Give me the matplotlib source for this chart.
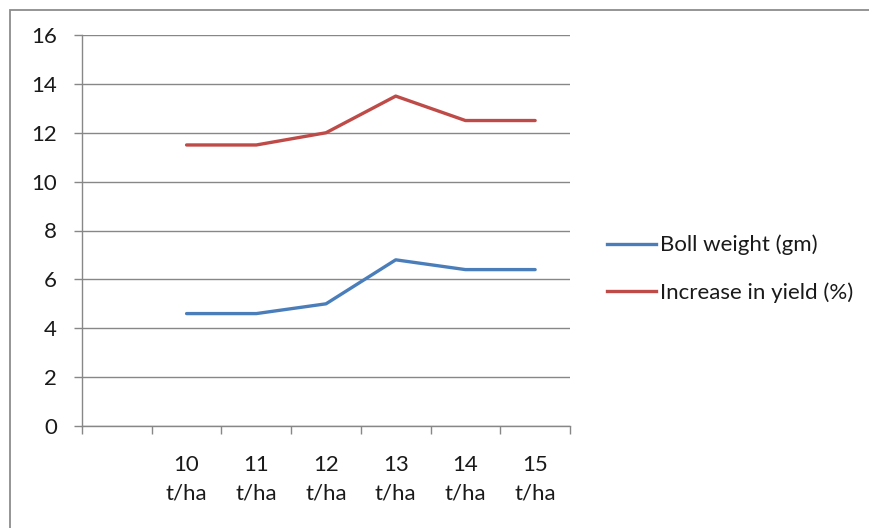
import matplotlib.pyplot as plt
from matplotlib.lines import Line2D
from matplotlib.patches import Rectangle

plt.rcParams['font.family'] = ['Lato', 'DejaVu Sans']

# Categories: the first slot is an empty category, as in the source sheet
categories = ['', '10\nt/ha', '11\nt/ha', '12\nt/ha', '13\nt/ha', '14\nt/ha', '15\nt/ha']
boll_weight = [None, 4.6, 4.6, 5.0, 6.8, 6.4, 6.4]
yield_increase = [None, 11.5, 11.5, 12.0, 13.5, 12.5, 12.5]
y_ticks = [0, 2, 4, 6, 8, 10, 12, 14, 16]

BLUE = '#4A7EBB'
RED = '#BE4B48'
GRID = '#878787'
TEXT = '#1a1a1a'
FS = 16

W, H = 869, 528
fig = plt.figure(figsize=(W / 100, H / 100), dpi=100)
fig.patch.set_facecolor('white')

# outer chart frame (left and top edges visible, the rest runs off the image)
fig.add_artist(Rectangle((10 / W, -0.05), 1.1, 1.05 - 10 / H,
                         transform=fig.transFigure, fill=False,
                         edgecolor='#8c8c8c', linewidth=1.3))

ax = fig.add_axes([82 / W, 1 - 426 / H, (570 - 82) / W, (426 - 35) / H])

n = len(categories)
xs = [i + 0.5 for i in range(n)]

def pts(vals):
    px = [x for x, v in zip(xs, vals) if v is not None]
    py = [v for v in vals if v is not None]
    return px, py

bx, by = pts(boll_weight)
rx, ry = pts(yield_increase)
ax.plot(bx, by, color=BLUE, linewidth=2.4, solid_capstyle='round', zorder=3)
ax.plot(rx, ry, color=RED, linewidth=2.4, solid_capstyle='round', zorder=3)

ax.set_xlim(0, n)
ax.set_ylim(0, 16)
ax.set_yticks(y_ticks)
ax.set_yticklabels([str(t) for t in y_ticks], fontsize=FS, color=TEXT)
ax.yaxis.grid(True, color=GRID, linewidth=1.0)
ax.set_axisbelow(True)

# category boundaries get tick marks, labels sit between them
ax.set_xticks(range(n + 1))
ax.set_xticklabels([])
ax.set_xticks(xs, minor=True)
ax.set_xticklabels(categories, minor=True, fontsize=FS, color=TEXT,
                   linespacing=1.5)
ax.tick_params(axis='x', which='major', length=6, color=GRID, width=1.0)
ax.tick_params(axis='x', which='minor', length=0, pad=21)
ax.tick_params(axis='y', length=6, color=GRID, width=1.0, pad=12)

for s in ['top', 'right']:
    ax.spines[s].set_visible(False)
for s in ['left', 'bottom']:
    ax.spines[s].set_color(GRID)
    ax.spines[s].set_linewidth(1.0)

handles = [
    Line2D([0], [0], color=BLUE, linewidth=2.4, label='Boll weight (gm)'),
    Line2D([0], [0], color=RED, linewidth=2.4, label='Increase in yield (%)'),
]
fig.legend(handles=handles, loc='center left',
           bbox_to_anchor=(607 / W, 1 - 269 / H), frameon=False,
           borderpad=0, borderaxespad=0,
           fontsize=FS, handlelength=2.2, handletextpad=0.2,
           labelspacing=1.22, labelcolor=TEXT)

fig.savefig('out.png', dpi=100, facecolor='white')
